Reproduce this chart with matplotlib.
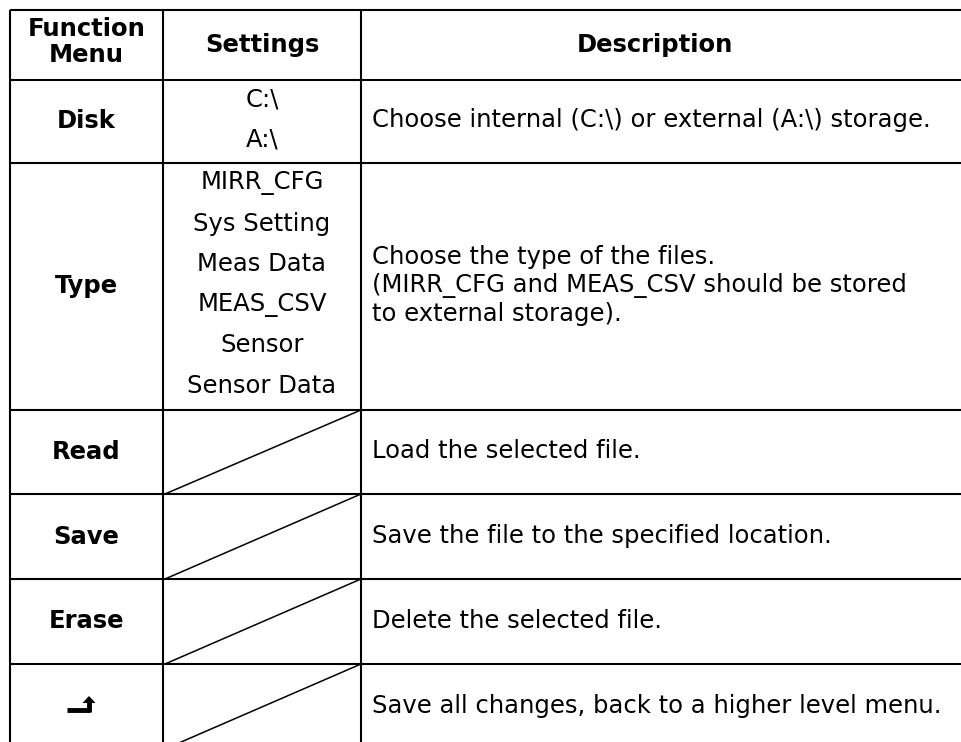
import matplotlib.pyplot as plt

# table content
headers = ['Function\nMenu', 'Settings', 'Description']
menus = ['Disk', 'Type', 'Read', 'Save', 'Erase', '']
settings = [
    ['C:\\', 'A:\\'],
    ['MIRR_CFG', 'Sys Setting', 'Meas Data', 'MEAS_CSV', 'Sensor', 'Sensor Data'],
    [], [], [], [],
]
descriptions = [
    'Choose internal (C:\\) or external (A:\\) storage.',
    'Choose the type of the files.\n(MIRR_CFG and MEAS_CSV should be stored\nto external storage).',
    'Load the selected file.',
    'Save the file to the specified location.',
    'Delete the selected file.',
    'Save all changes, back to a higher level menu.',
]

# layout (pixels)
col_x = [10, 163, 361, 963]
row_y = [10, 80, 163, 410, 494, 579, 664, 749]
font = 'DejaVu Sans'
fs = 17.5

fig = plt.figure(figsize=(9.62, 7.42), dpi=100)
ax = fig.add_axes([0, 0, 1, 1])
ax.set_xlim(0, 962)
ax.set_ylim(742, 0)
ax.axis('off')

lw = 1.5
for y in row_y:
    ax.plot([col_x[0], col_x[-1]], [y, y], color='black', lw=lw, solid_capstyle='butt')
for x in col_x:
    ax.plot([x, x], [row_y[0], row_y[-1]], color='black', lw=lw, solid_capstyle='butt')

# header
hy = (row_y[0] + row_y[1]) / 2
ax.text((col_x[0] + col_x[1]) / 2, hy - 3, headers[0], ha='center', va='center',
        fontsize=fs, fontweight='bold', family=font, linespacing=1.1)
ax.text((col_x[1] + col_x[2]) / 2, hy, headers[1], ha='center', va='center',
        fontsize=fs, fontweight='bold', family=font)
ax.text(655, hy, headers[2], ha='center', va='center',
        fontsize=fs, fontweight='bold', family=font)

for i, name in enumerate(menus):
    top, bot = row_y[i + 1], row_y[i + 2]
    cy = (top + bot) / 2
    if name:
        ax.text((col_x[0] + col_x[1]) / 2, cy, name, ha='center', va='center',
                fontsize=fs, fontweight='bold', family=font)
    else:
        # return arrow icon
        ax.plot([67, 90], [710, 710], color='black', lw=3.5, solid_capstyle='butt')
        ax.plot([89, 89], [711.5, 702], color='black', lw=3.5, solid_capstyle='butt')
        ax.fill([82.5, 95.5, 89], [703, 703, 696], color='black', lw=0)
    s = settings[i]
    if s:
        sp = 40.5
        start = cy - 2 - sp * (len(s) - 1) / 2
        for k, t in enumerate(s):
            ax.text((col_x[1] + col_x[2]) / 2, start + k * sp, t, ha='center', va='center',
                    fontsize=fs, family=font)
    else:
        ax.plot([col_x[1] + 2, col_x[2]], [bot, top], color='black', lw=1.1)
    ax.text(col_x[2] + 11, cy - 1, descriptions[i], ha='left', va='center',
            fontsize=fs, family=font, linespacing=1.2)

fig.savefig('out.png', dpi=100)
